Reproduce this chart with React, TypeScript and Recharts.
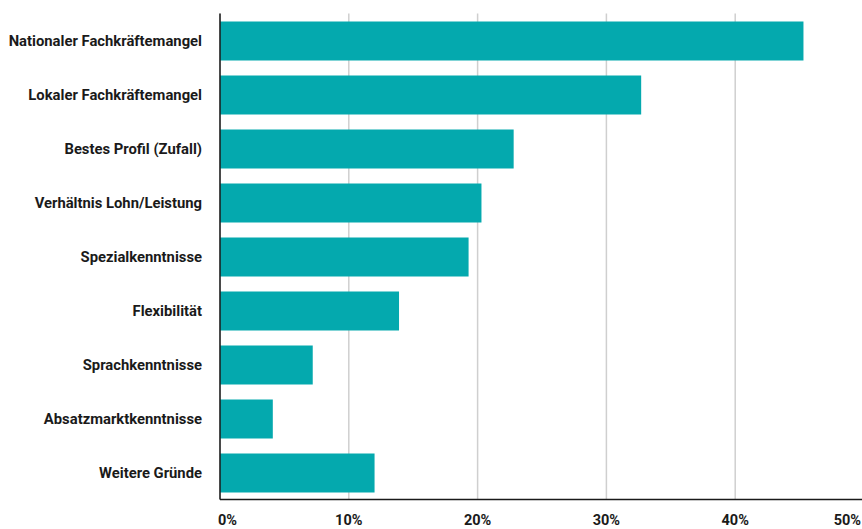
import { Bar, BarChart, CartesianGrid, XAxis, YAxis } from 'recharts'

const categories = [
    'Nationaler Fachkräftemangel',
    'Lokaler Fachkräftemangel',
    'Bestes Profil (Zufall)',
    'Verhältnis Lohn/Leistung',
    'Spezialkenntnisse',
    'Flexibilität',
    'Sprachkenntnisse',
    'Absatzmarktkenntnisse',
    'Weitere Gründe',
]

const shares = [0.453, 0.327, 0.228, 0.203, 0.193, 0.139, 0.072, 0.041, 0.12]

const xTicks = [0, 0.1, 0.2, 0.3, 0.4, 0.5]

const data = categories.map((name, i) => ({ name, value: shares[i] }))

const FONT = 'Roboto, "Noto Sans", sans-serif'

function XTick(props: any) {
    const { x, y, payload, index } = props
    const last = index === xTicks.length - 1
    const anchor = index === 0 ? 'start' : last ? 'end' : 'middle'
    // keep the last label inside the window
    const dx = index === 0 ? -2 : last ? -3 : 0
    return (
        <text
            x={x + dx}
            y={y}
            dy={17}
            textAnchor={anchor}
            fontFamily={FONT}
            fontWeight={700}
            fontSize={14.5}
            fill="#1a1a1a"
        >
            {`${Math.round(payload.value * 100)}%`}
        </text>
    )
}

function YTick(props: any) {
    const { x, y, payload } = props
    return (
        <text
            x={x}
            y={y}
            dy={5}
            textAnchor="end"
            fontFamily={FONT}
            fontWeight={700}
            fontSize={14.8}
            fill="#1a1a1a"
        >
            {payload.value}
        </text>
    )
}

export default function App() {
    return (
        <div
            style={{
                position: 'absolute',
                left: 0,
                top: 0,
                width: 862,
                height: 529,
                overflow: 'hidden',
                background: '#fff',
            }}
        >
            <BarChart
                width={864}
                height={529}
                data={data}
                layout="vertical"
                margin={{ top: 13.5, right: 0, bottom: 0, left: 0 }}
            >
                <CartesianGrid
                    horizontal={false}
                    stroke="#cfcfcf"
                    strokeWidth={1.5}
                />
                <XAxis
                    type="number"
                    domain={[0, 0.5]}
                    ticks={xTicks}
                    height={29.5}
                    tickLine={false}
                    axisLine={{ stroke: '#1a1a1a', strokeWidth: 1.5 }}
                    tick={<XTick />}
                    interval={0}
                />
                <YAxis
                    type="category"
                    dataKey="name"
                    width={220}
                    tickLine={false}
                    axisLine={{ stroke: '#1a1a1a', strokeWidth: 1.5 }}
                    tickMargin={12}
                    tick={<YTick />}
                    interval={0}
                />
                <Bar
                    dataKey="value"
                    fill="#04A9AE"
                    barSize={39}
                    isAnimationActive={false}
                />
            </BarChart>
        </div>
    )
}
